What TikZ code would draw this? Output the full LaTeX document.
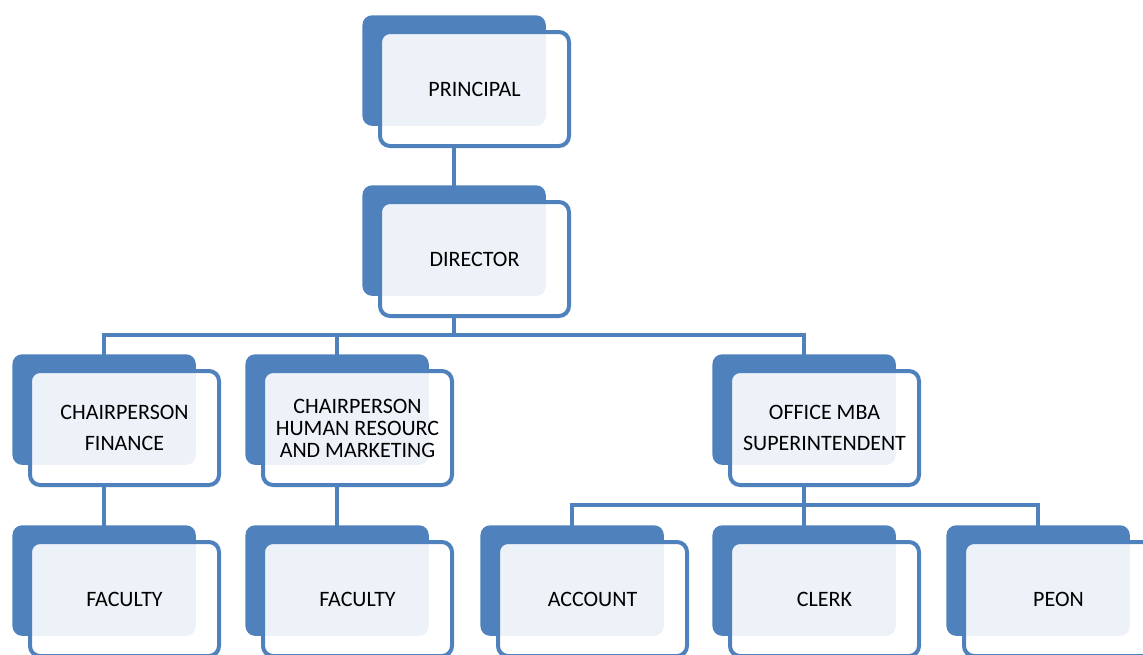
\documentclass[tikz,border=0pt]{standalone}
\usepackage{fontspec}
\setmainfont{Carlito}
\usetikzlibrary{shadows,backgrounds}
\definecolor{boxblue}{HTML}{4F81BD}
\tikzset{every path/.style={line width=4pt},
  unit/.style={draw=boxblue, fill=white, fill opacity=0.9, text opacity=1,
    rounded corners=10pt, minimum width=189pt, minimum height=114pt,
    inner sep=0pt, align=center, font=\fontsize{22}{22}\selectfont,
    general shadow={fill=boxblue, fill opacity=1, draw=none,
      shadow scale=0.97, shadow xshift=-21pt, shadow yshift=19pt}},
  link/.style={draw=boxblue}}

\begin{document}
\begin{tikzpicture}[x=1pt,y=-1pt]
  \useasboundingbox (0,0) rectangle (1143,654);
  \node[unit] (principal) at (474.5, 89) {PRINCIPAL};
  \node[unit] (director)  at (474.5,259) {DIRECTOR};
  \node[unit] (finance)   at (124.5,428) {CHAIRPERSON\\[9pt]FINANCE};
  \node[unit] (hr)        at (357.5,428) {CHAIRPERSON\\HUMAN RESOURC\\AND MARKETING};
  \node[unit] (office)    at (824.5,428) {OFFICE MBA\\[9pt]SUPERINTENDENT};
  \node[unit] (faca)      at (124.5,599) {FACULTY};
  \node[unit] (facb)      at (357.5,599) {FACULTY};
  \node[unit] (account)   at (592.5,599) {ACCOUNT};
  \node[unit] (clerk)     at (824.5,599) {CLERK};
  \node[unit] (peon)      at (1058.5,599) {PEON};
  \coordinate (splita) at (453.5,335);
  \coordinate (splitb) at (803.5,505);
  \begin{scope}[on background layer]
    \draw[link] ([xshift=-21pt]principal.south) -- ([xshift=-21pt]director.north);
    \draw[link] ([xshift=-21pt]director.south) -- (splita);
    \draw[link] ([xshift=-21pt]finance.north) |- (splita) -| ([xshift=-21pt]office.north);
    \draw[link] ([xshift=-21pt]hr.north |- splita) -- ([xshift=-21pt]hr.north);
    \draw[link] ([xshift=-21pt]finance.south) -- ([xshift=-21pt]faca.north);
    \draw[link] ([xshift=-21pt]hr.south) -- ([xshift=-21pt]facb.north);
    \draw[link] ([xshift=-21pt]office.south) -- (splitb);
    \draw[link] ([xshift=-21pt]account.north) |- (splitb) -| ([xshift=-21pt]peon.north);
    \draw[link] (splitb) -- ([xshift=-21pt]clerk.north);
  \end{scope}
\end{tikzpicture}
\end{document}
